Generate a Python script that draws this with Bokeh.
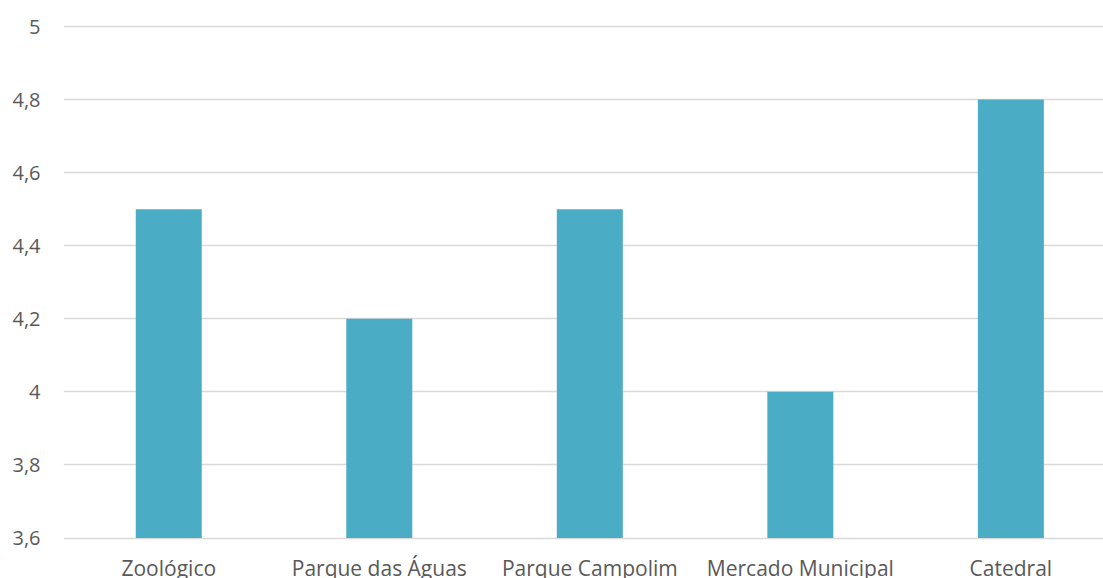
from bokeh.plotting import figure
from bokeh.models import Range1d, FixedTicker
from bokeh.core.properties import value
from bokeh.embed import file_html
from bokeh.resources import INLINE

# Average rating per attraction
categories = ["Zoológico", "Parque das Águas", "Parque Campolim", "Mercado Municipal", "Catedral"]
ratings = [4.5, 4.2, 4.5, 4.0, 4.8]

# Value axis ticks and their printed labels (comma decimal)
y_ticks = [3.6, 3.8, 4.0, 4.2, 4.4, 4.6, 4.8, 5.0]
y_tick_labels = ["3,6", "3,8", "4", "4,2", "4,4", "4,6", "4,8", "5"]

y_base = 3.6
y_top = 5.0

# Layout in pixels: value range [y_base, y_top] spans this many pixels
value_span_px = 511.5
px_per_unit = value_span_px / (y_top - y_base)
pad_top_px = 4
pad_bottom_px = 40.5

x_pos = list(range(len(categories)))

p = figure(
    width=1103, height=578,
    x_range=Range1d(-0.5, 4.44),
    y_range=Range1d(y_base - pad_bottom_px / px_per_unit,
                    y_top + pad_top_px / px_per_unit),
    output_backend="svg", toolbar_location=None,
    min_border_left=63, min_border_right=0,
    min_border_top=22, min_border_bottom=0,
)
p.outline_line_color = None
p.background_fill_color = "white"
p.border_fill_color = "white"

font = "Open Sans"
text_color = "#595959"

# Value axis
p.yaxis.ticker = FixedTicker(ticks=y_ticks)
p.yaxis.major_label_overrides = {t: s for t, s in zip(y_ticks, y_tick_labels)}
p.yaxis.axis_line_color = None
p.yaxis.major_tick_line_color = None
p.yaxis.minor_tick_line_color = None
p.yaxis.major_tick_out = 0
p.yaxis.major_tick_in = 0
p.yaxis.major_label_text_font = font
p.yaxis.major_label_text_font_size = "20px"
p.yaxis.major_label_text_color = text_color
p.yaxis.major_label_standoff = 23
p.ygrid.grid_line_color = "#D9D9D9"
p.ygrid.grid_line_width = 1.6
p.xgrid.grid_line_color = None
p.xaxis.visible = False

p.vbar(x=x_pos, top=ratings, bottom=y_base, width=0.3135,
       fill_color="#4BACC6", line_color=None)

# Category names under the baseline
p.text(x=x_pos, y=[y_base] * len(x_pos), text=categories,
       y_offset=29.5, text_align="center", text_baseline="alphabetic",
       text_font=value(font), text_font_size="21px", text_color=text_color)

open("out.html", "w").write(file_html(p, INLINE))
